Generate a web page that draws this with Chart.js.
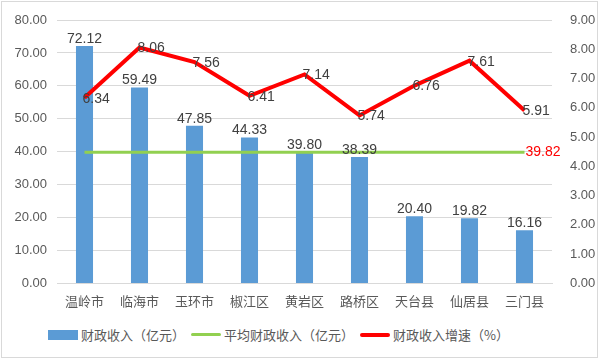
<!DOCTYPE html>
<html lang="zh">
<head>
  <meta charset="UTF-8" />
  <title>财政收入</title>
  <script src="https://cdn.jsdelivr.net/npm/chart.js"></script>
  <style>
    body {
      margin: 0;
      padding: 0;
      background: #fff;
      font-family: "Noto Sans CJK SC", sans-serif;
    }
    .frame {
      position: absolute;
      left: 1px;
      top: 1px;
      width: 597px;
      height: 357px;
      border: 1px solid #d9d9d9;
      box-sizing: border-box;
    }
    #chartBox {
      position: absolute;
      left: 0;
      top: 0;
      width: 602px;
      height: 311px;
    }
    .legend {
      position: absolute;
      top: 325px;
      left: 48px;
      display: flex;
      align-items: center;
      font-size: 13px;
      color: #595959;
      white-space: nowrap;
    }
    .legend .sw {
      display: inline-block;
      width: 30px;
      margin-right: 3px;
    }
    .legend .item {
      display: flex;
      align-items: center;
      margin-right: 6px;
    }
  </style>
</head>
<body>
  <div class="frame"></div>
  <div id="chartBox">
    <canvas id="revChart"></canvas>
  </div>
  <div class="legend">
    <div class="item"><span class="sw" style="height:10px;background:#5b9bd5"></span>财政收入（亿元）</div>
    <div class="item"><span class="sw" style="height:3px;background:#92d050;border-radius:2px"></span>平均财政收入（亿元）</div>
    <div class="item"><span class="sw" style="height:4px;background:#ff0000;border-radius:2px"></span>财政收入增速（%）</div>
  </div>

  <script>
    const regions = ['温岭市', '临海市', '玉环市', '椒江区', '黄岩区', '路桥区', '天台县', '仙居县', '三门县'];
    const revenue = [72.12, 59.49, 47.85, 44.33, 39.80, 38.39, 20.40, 19.82, 16.16];
    const avgRevenue = [39.82, 39.82, 39.82, 39.82, 39.82, 39.82, 39.82, 39.82, 39.82];
    const growth = [6.34, 8.06, 7.56, 6.41, 7.14, 5.74, 6.76, 7.61, 5.91];

    // value labels drawn by hand (no datalabels plugin here)
    const valueLabels = {
      id: 'valueLabels',
      afterDatasetsDraw(chart) {
        const ctx = chart.ctx;
        ctx.save();
        ctx.font = '14px "Liberation Sans", sans-serif';
        ctx.fillStyle = '#404040';

        chart.getDatasetMeta(0).data.forEach((bar, i) => {
          ctx.textAlign = 'center';
          ctx.textBaseline = 'bottom';
          ctx.fillText(revenue[i].toFixed(2), bar.x, bar.y);
        });

        chart.getDatasetMeta(2).data.forEach((pt, i) => {
          ctx.textAlign = 'left';
          ctx.textBaseline = 'middle';
          ctx.fillText(growth[i].toFixed(2), pt.x - 2, pt.y + 1);
        });

        const avgPts = chart.getDatasetMeta(1).data;
        const last = avgPts[avgPts.length - 1];
        ctx.fillStyle = '#ff0000';
        ctx.textAlign = 'left';
        ctx.textBaseline = 'middle';
        ctx.fillText(avgRevenue[avgRevenue.length - 1].toFixed(2), last.x + 1, last.y);
        ctx.restore();
      }
    };

    const tickFont = { family: '"Liberation Sans", sans-serif', size: 13 };

    new Chart(document.getElementById('revChart'), {
      data: {
        labels: regions,
        datasets: [
          {
            type: 'bar',
            label: '财政收入（亿元）',
            data: revenue,
            backgroundColor: '#5b9bd5',
            barPercentage: 0.62,
            categoryPercentage: 0.5,
            yAxisID: 'y',
            order: 3
          },
          {
            type: 'line',
            label: '平均财政收入（亿元）',
            data: avgRevenue,
            borderColor: '#92d050',
            borderWidth: 3,
            pointRadius: 0,
            yAxisID: 'y',
            order: 2
          },
          {
            type: 'line',
            label: '财政收入增速（%）',
            data: growth,
            borderColor: '#ff0000',
            borderWidth: 4,
            pointRadius: 0,
            tension: 0,
            yAxisID: 'y1',
            order: 1
          }
        ]
      },
      options: {
        responsive: true,
        maintainAspectRatio: false,
        animation: false,
        layout: { padding: { left: 0, right: 0, top: 20, bottom: 0 } },
        plugins: {
          legend: { display: false },
          tooltip: { enabled: false }
        },
        scales: {
          x: {
            grid: { display: false },
            border: { color: '#d9d9d9' },
            ticks: {
              color: '#595959',
              font: { family: '"Noto Sans CJK SC", sans-serif', size: 13 },
              maxRotation: 0,
              padding: 2
            }
          },
          y: {
            position: 'left',
            min: 0,
            max: 80,
            afterFit: s => { s.width = 57; },
            ticks: {
              stepSize: 10,
              color: '#595959',
              font: tickFont,
              padding: 10,
              callback: v => v.toFixed(2)
            },
            grid: { color: '#d9d9d9', drawTicks: false },
            border: { display: false }
          },
          y1: {
            position: 'right',
            min: 0,
            max: 9,
            afterFit: s => { s.width = 50; },
            ticks: {
              stepSize: 1,
              color: '#595959',
              font: tickFont,
              padding: 10,
              callback: v => v.toFixed(2)
            },
            grid: { display: false },
            border: { display: false }
          }
        }
      },
      plugins: [valueLabels]
    });
  </script>
</body>
</html>
